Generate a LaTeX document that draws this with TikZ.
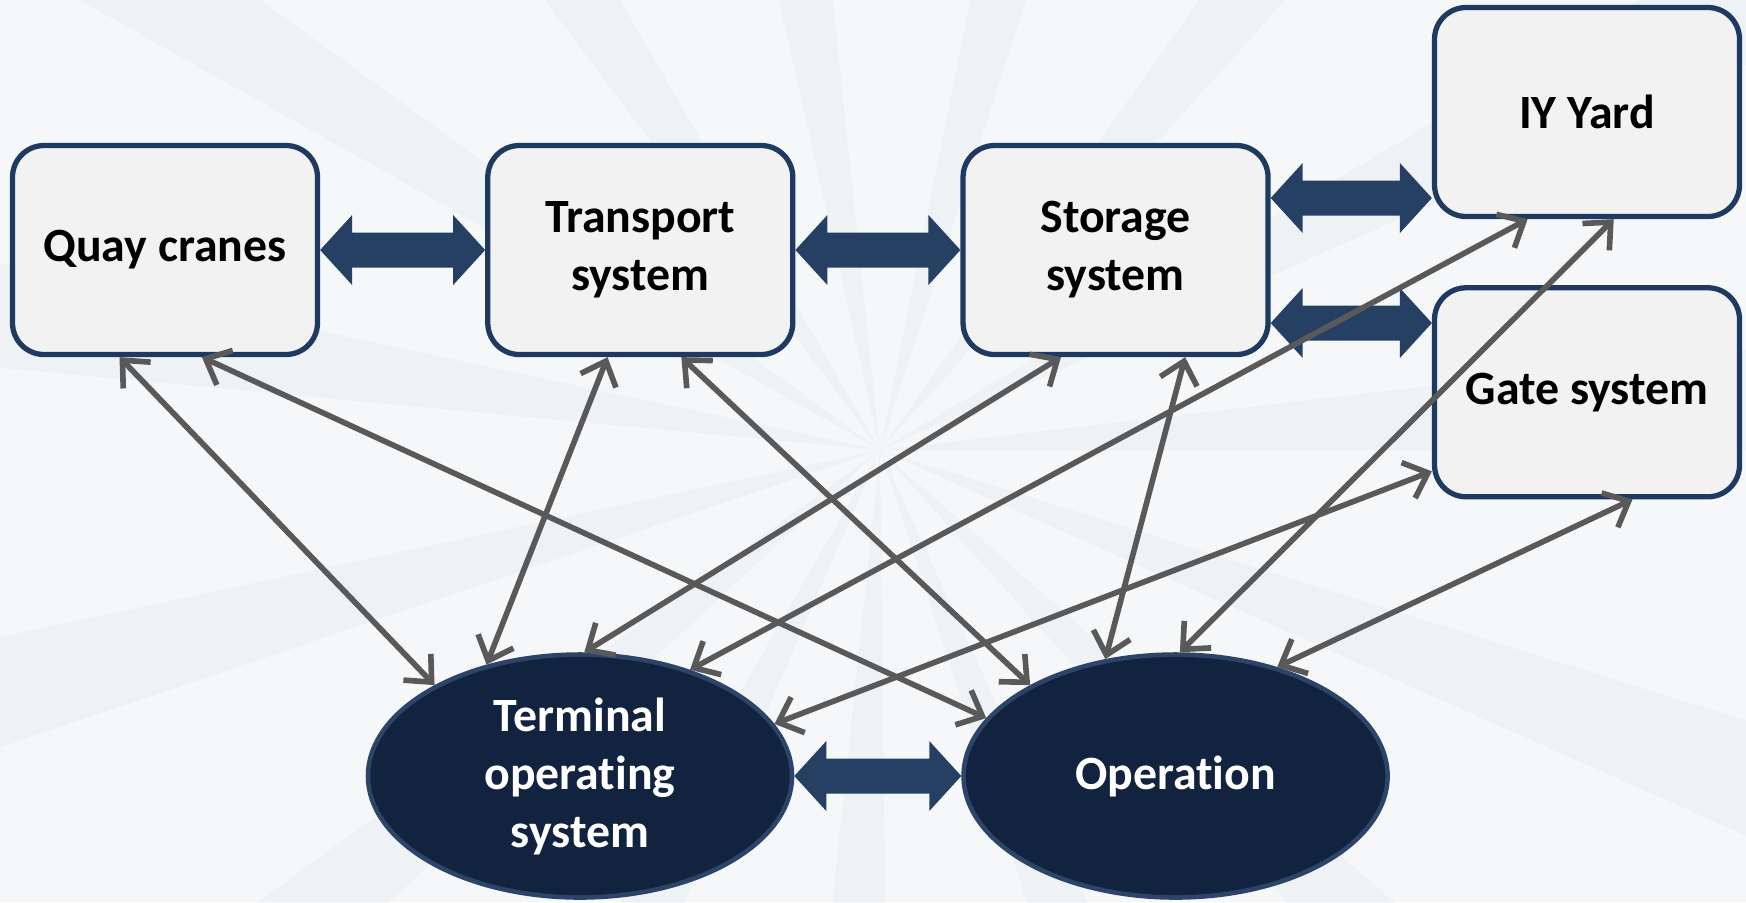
\documentclass[tikz,border=0pt]{standalone}
\usepackage{fontspec}
\setmainfont[Ligatures=NoCommon]{Carlito}
\usetikzlibrary{shapes.geometric, positioning, arrows.meta, calc}

\definecolor{navy}{HTML}{12233F}
\definecolor{navyline}{HTML}{2B4468}
\definecolor{boxline}{HTML}{1F3A60}
\definecolor{boxfill}{HTML}{F2F2F2}
\definecolor{arrowfill}{HTML}{264064}
\definecolor{linkgray}{HTML}{595959}
\definecolor{bgbase}{HTML}{F5F7F9}
\definecolor{bgray}{HTML}{E4E8EC}

% thick two-headed block arrow between two points at the same height
\newcommand{\twoway}[2]{%
  \fill[arrowfill] (#1) -- ($(#1)+(3.2mm,3.5mm)$) -- ($(#1)+(3.2mm,1.75mm)$)
    -- ($(#2)+(-3.2mm,1.75mm)$) -- ($(#2)+(-3.2mm,3.5mm)$) -- (#2)
    -- ($(#2)+(-3.2mm,-3.5mm)$) -- ($(#2)+(-3.2mm,-1.75mm)$)
    -- ($(#1)+(3.2mm,-1.75mm)$) -- ($(#1)+(3.2mm,-3.5mm)$) -- cycle;}

\begin{document}
\begin{tikzpicture}[x=0.1mm, y=-0.1mm,
    system/.style={rectangle, draw=boxline, fill=boxfill, line width=1.5pt, rounded corners=9pt, minimum width=30.5mm, minimum height=20.9mm, inner sep=0pt, align=center, font=\fontsize{13.6}{16.5}\selectfont\bfseries},
    hub/.style={ellipse, draw=navyline, fill=navy, line width=1.3pt, minimum width=42.4mm, minimum height=24.3mm, inner sep=0pt, align=center, text=white, font=\fontsize{13.6}{16.5}\selectfont\bfseries},
    link/.style={draw=linkgray, line width=1.6pt, {Straight Barb[length=2.1mm,width=3.8mm]}-{Straight Barb[length=2.1mm,width=3.8mm]}}]

    \useasboundingbox (0,0) rectangle (1746,902);

    % Light burst in the background
    \begin{scope}
        \clip (0,0) rectangle (1746,902);
        \fill[bgbase] (0,0) rectangle (1746,902);
        \coordinate (bgc) at (880,450);
        \foreach \a in {0,24,...,336}
            \fill[bgray, opacity=0.3] (bgc) -- ++(\a:12cm) -- ++({\a+90}:1.4cm) -- cycle;
    \end{scope}

    % Subsystems in the top row
    \node[system] (quay) at (165,250) {Quay cranes};
    \node[system] (transport) [right=16.5mm of quay] {Transport\\system};
    \node[system] (storage) [right=16.5mm of transport] {Storage\\system};
    \node[system] (iy) at (1587,112) {IY Yard};
    \node[system] (gate) [below=6.6mm of iy] {Gate system};

    % Control layer at the bottom
    \node[hub] (tos) at (580,776) {Terminal\\operating\\system};
    \node[hub] (operation) [right=16.7mm of tos] {Operation};

    % Thick two-way flows
    \coordinate (s1) at ([yshift=5.2mm]storage.east);
    \coordinate (s2) at ([yshift=-7.3mm]storage.east);
    \twoway{quay.east}{transport.west}
    \twoway{transport.east}{storage.west}
    \twoway{s1}{iy.west |- s1}
    \twoway{s2}{gate.west |- s2}
    \twoway{tos.east}{operation.west}

    % Links from each subsystem to both controllers
    \draw[link] (quay.-113.5) -- (tos.148.8);
    \draw[link] (quay.-71.7) -- (operation.163.8);
    \draw[link] (transport.-107.3) -- (tos.130.4);
    \draw[link] (transport.-69.8) -- (operation.148.7);
    \draw[link] (storage.-117) -- (tos.88.6);
    \draw[link] (storage.-57.7) -- (operation.121);
    \draw[link] (iy.-119.1) -- (tos.44);
    \draw[link] (iy.-76.2) -- (operation.88.7);
    \draw[link] (gate.-153) -- (tos.15.3);
    \draw[link] (gate.-67.3) -- (operation.47.5);

\end{tikzpicture}
\end{document}
